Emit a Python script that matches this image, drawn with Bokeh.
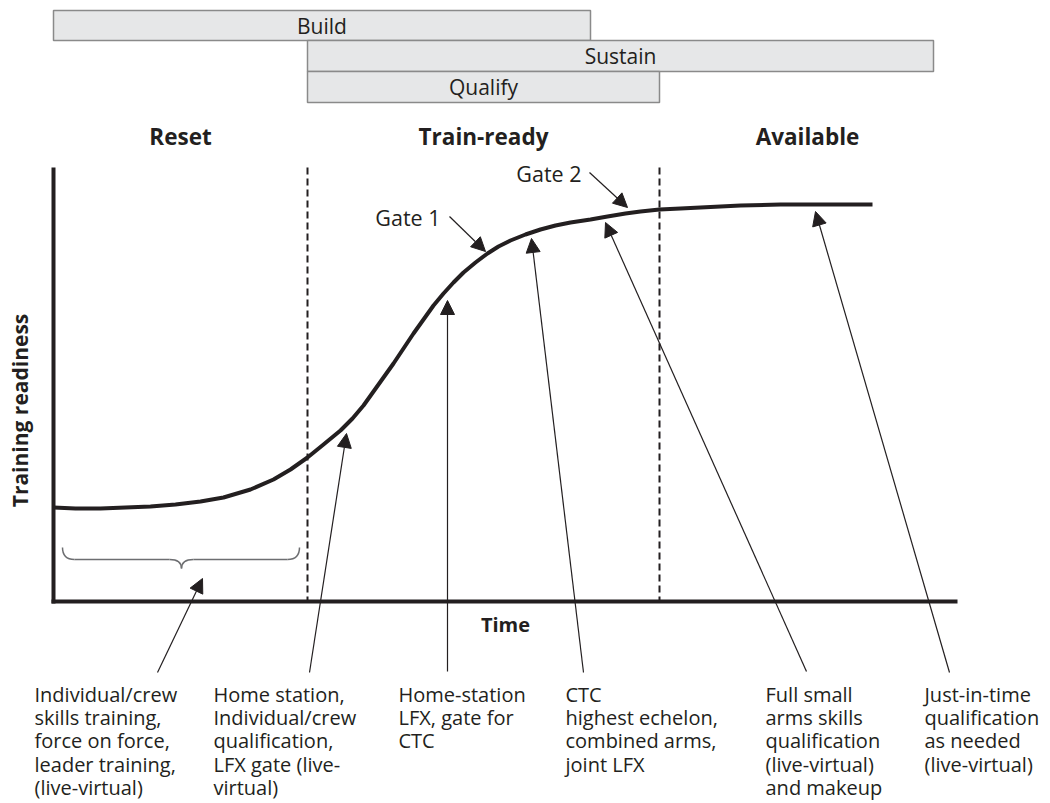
from bokeh.plotting import figure
from bokeh.models import Range1d, Arrow, NormalHead
from bokeh.core.properties import value
from bokeh.embed import file_html
from bokeh.resources import INLINE
import math

FONT = "Open Sans"
INK = "#231f20"

# ---- phase bars (top) ----
bar_names = ["Build", "Sustain", "Qualify"]
bar_left = [53, 307, 307]
bar_right = [590, 933, 659]
bar_top = [10, 40, 71]
bar_bottom = [40, 71, 102]

# ---- phase headings ----
phase_names = ["Reset", "Train-ready", "Available"]
phase_x = [180, 483, 807]
phase_y = [136, 136, 136]

# ---- readiness curve (time px, readiness px) ----
curve_x = [53, 75, 100, 125, 150, 175, 200, 223, 250, 273, 290, 307, 323, 340, 352,
           363, 373, 383, 393, 403, 413, 423, 433, 443, 453, 463, 475, 487, 498, 510,
           525, 540, 555, 570, 590, 607, 625, 640, 659, 680, 700, 740, 780, 807, 872]
curve_y = [507, 508, 508, 507, 506, 504, 501, 497, 489, 479, 469, 457, 444, 430, 418,
           405, 391, 377, 363, 348, 333, 319, 305, 293, 282, 272, 262, 253, 246, 240,
           234, 229, 225, 222, 219, 216, 213, 211, 209, 208, 207, 205, 204, 204, 204]

# ---- axes ----
axis_origin = (53, 601)
axis_top = 167
axis_right = 957
phase_bounds = [307, 659]

# ---- annotation arrows (start -> tip) ----
arr_x0 = [157, 309, 447, 583, 806, 949, 449, 589]
arr_y0 = [672, 672, 671, 672, 671, 672, 216, 172]
arr_x1 = [202, 346, 447, 531, 605, 815, 485, 627]
arr_y1 = [578, 433, 300, 238, 222, 211, 251, 207]

# ---- gate labels ----
gate_names = ["Gate 1", "Gate 2"]
gate_x = [440, 581]
gate_y = [217, 173]

# ---- bottom descriptions ----
desc_texts = [
    "Individual/crew\nskills training,\nforce on force,\nleader training,\n(live-virtual)",
    "Home station,\nIndividual/crew\nqualification,\nLFX gate (live-\nvirtual)",
    "Home-station\nLFX, gate for\nCTC",
    "CTC\nhighest echelon,\ncombined arms,\njoint LFX",
    "Full small\narms skills\nqualification\n(live-virtual)\nand makeup",
    "Just-in-time\nqualification\nas needed\n(live-virtual)",
]
desc_x = [34, 213, 398, 565, 765, 924]
desc_y = [680, 680, 680, 680, 680, 680]

# ---- brace under Reset ----
brace_left, brace_right, brace_top, brace_mid, brace_tip = 62, 299, 547, 559, 568
brace_centre = 181

W, H = 1050, 803
p = figure(width=W, height=H, output_backend="svg", toolbar_location=None,
           x_range=Range1d(0, W), y_range=Range1d(H, 0),
           min_border=0, outline_line_color=None)
p.axis.visible = False
p.grid.visible = False
p.background_fill_color = "white"

# bars
p.quad(left=bar_left, right=bar_right, top=bar_top, bottom=bar_bottom,
       fill_color="#e6e7e8", line_color="#8a8a8a", line_width=1.5)
p.text(x=[(a + b) / 2 for a, b in zip(bar_left, bar_right)],
       y=[(a + b) / 2 for a, b in zip(bar_top, bar_bottom)],
       text=bar_names, text_font=value(FONT), text_font_size="21px",
       text_align="center", text_baseline="middle", text_color=INK)

# phase headings
p.text(x=phase_x, y=phase_y, text=phase_names, text_font=value(FONT),
       text_font_style="bold", text_font_size="22.5px", text_align="center",
       text_baseline="middle", text_color=INK)

# dashed phase bounds
for bx in phase_bounds:
    p.line(x=[bx, bx], y=[axis_top, axis_origin[1]], line_color=INK,
           line_width=2, line_dash="7 4")

# axes
p.line(x=[axis_origin[0], axis_origin[0]], y=[axis_top, axis_origin[1] + 2],
       line_color=INK, line_width=4)
p.line(x=[axis_origin[0] - 2, axis_right], y=[axis_origin[1], axis_origin[1]],
       line_color=INK, line_width=4)

# curve
p.line(x=curve_x, y=curve_y, line_color=INK, line_width=4, line_join="round",
       line_cap="butt")

# brace
BR = "#6d6e71"
r = brace_mid - brace_top
p.quadratic(x0=[brace_left, brace_centre, brace_centre, brace_right - r],
            y0=[brace_top, brace_tip, brace_tip, brace_mid],
            x1=[brace_left + r, brace_centre - r, brace_centre + r, brace_right],
            y1=[brace_mid, brace_mid, brace_mid, brace_top],
            cx=[brace_left, brace_centre, brace_centre, brace_right],
            cy=[brace_mid, brace_mid, brace_mid, brace_mid],
            line_color=BR, line_width=1.5)
p.multi_line(xs=[[brace_left + r, brace_centre - r], [brace_centre + r, brace_right - r]],
             ys=[[brace_mid, brace_mid], [brace_mid, brace_mid]],
             line_color=BR, line_width=1.5)

# arrows
for x0, y0, x1, y1 in zip(arr_x0, arr_y0, arr_x1, arr_y1):
    p.add_layout(Arrow(end=NormalHead(size=14, fill_color=INK, line_color=INK,
                                      line_width=1),
                       x_start=x0, y_start=y0, x_end=x1, y_end=y1,
                       line_color=INK, line_width=1.2))

# gate labels
p.text(x=gate_x, y=gate_y, text=gate_names, text_font=value(FONT),
       text_font_size="21.5px", text_align="right", text_baseline="middle",
       text_color=INK)

# axis titles
p.text(x=[505], y=[624], text=["Time"], text_font=value(FONT),
       text_font_style="bold", text_font_size="20px", text_align="center",
       text_baseline="middle", text_color=INK)
p.text(x=[19], y=[410], text=["Training readiness"], text_font=value(FONT),
       text_font_style="bold", text_font_size="21px", text_align="center",
       text_baseline="middle", text_color=INK, angle=math.pi / 2)

# descriptions
p.text(x=desc_x, y=desc_y, text=desc_texts, text_font=value(FONT),
       text_font_size="20px", text_align="left", text_baseline="top",
       text_line_height=0.87, text_color=INK)

open("out.html", "w").write(file_html(p, INLINE))
